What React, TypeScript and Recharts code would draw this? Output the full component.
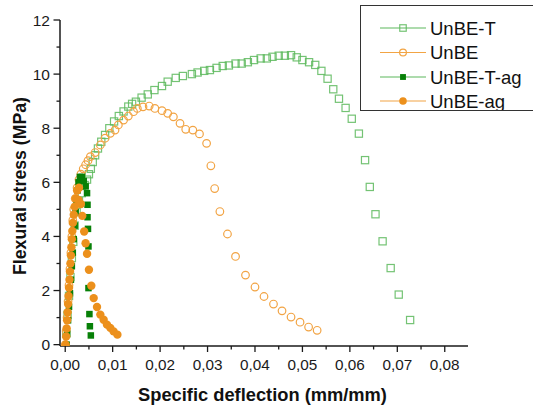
import { Label, Legend, Scatter, ScatterChart, XAxis, YAxis } from 'recharts';

type Pt = [number, number];

// (specific deflection mm/mm, flexural stress MPa)
const unbeT: Pt[] = [
  [0.0002, 0.4], [0.0005, 1.1], [0.0008, 1.8], [0.0011, 2.5], [0.0014, 3.2], [0.0017, 3.8],
  [0.002, 4.4], [0.0024, 4.9], [0.0029, 5.3], [0.0035, 5.6], [0.0041, 5.9], [0.0046, 6.1],
  [0.005, 6.3], [0.0054, 6.5], [0.0058, 6.75], [0.0063, 7.0], [0.0069, 7.25], [0.0076, 7.5],
  [0.0084, 7.75], [0.0093, 8.0], [0.0103, 8.25], [0.0113, 8.45], [0.0123, 8.62], [0.0133, 8.8],
  [0.0141, 8.9], [0.0149, 8.98], [0.0161, 9.13], [0.0174, 9.25], [0.0188, 9.41], [0.0204, 9.56],
  [0.0216, 9.72], [0.0233, 9.86], [0.0248, 9.93], [0.0267, 10.0], [0.0279, 10.06], [0.0293, 10.12],
  [0.0305, 10.15], [0.0319, 10.23], [0.0332, 10.3], [0.0345, 10.32], [0.0359, 10.39], [0.0372, 10.39],
  [0.0385, 10.44], [0.0398, 10.52], [0.0412, 10.58], [0.0425, 10.58], [0.0437, 10.64], [0.045, 10.68],
  [0.0463, 10.68], [0.0476, 10.7], [0.0488, 10.62], [0.05, 10.52], [0.0514, 10.44], [0.0527, 10.34],
  [0.054, 10.12], [0.0553, 9.83], [0.0565, 9.44], [0.0577, 9.09], [0.0591, 8.75], [0.0604, 8.35],
  [0.0619, 7.8], [0.0632, 6.82], [0.0642, 5.83], [0.0654, 4.82], [0.0669, 3.82], [0.0686, 2.83],
  [0.0703, 1.85], [0.0727, 0.91],
];

const unbe: Pt[] = [
  [0.0, 0.0], [0.0002, 0.5], [0.0004, 1.0], [0.0006, 1.6], [0.0008, 2.2], [0.001, 2.8],
  [0.0012, 3.4], [0.0014, 4.0], [0.0016, 4.6], [0.0018, 5.0], [0.0021, 5.4], [0.0025, 5.8],
  [0.0029, 6.1], [0.0033, 6.3], [0.0038, 6.5], [0.0043, 6.65], [0.0048, 6.8], [0.0053, 6.95],
  [0.0063, 7.1], [0.0074, 7.38], [0.0084, 7.63], [0.0095, 7.81], [0.0105, 7.93], [0.0112, 8.12],
  [0.0123, 8.3], [0.0133, 8.45], [0.0144, 8.61], [0.0152, 8.73], [0.0164, 8.79], [0.0177, 8.82],
  [0.0189, 8.73], [0.0204, 8.65], [0.0216, 8.55], [0.0228, 8.42], [0.0242, 8.18], [0.0254, 7.96],
  [0.0269, 7.93], [0.0283, 7.79], [0.0298, 7.44], [0.0307, 6.61], [0.0315, 5.77], [0.0326, 4.92],
  [0.0342, 4.09], [0.0359, 3.26], [0.038, 2.57], [0.04, 2.13], [0.0419, 1.78], [0.0439, 1.5],
  [0.0457, 1.25], [0.0476, 1.02], [0.0495, 0.83], [0.0513, 0.65], [0.0531, 0.53],
];

const unbeTag: Pt[] = [
  [0.0003, 0.0], [0.0004, 0.4], [0.0006, 0.9], [0.0008, 1.4], [0.001, 1.9], [0.0012, 2.4],
  [0.0014, 2.9], [0.0016, 3.4], [0.0018, 3.9], [0.002, 4.4], [0.0022, 4.9], [0.0024, 5.3],
  [0.0026, 5.7], [0.0028, 6.0], [0.0031, 6.2], [0.0035, 6.2], [0.0039, 6.05], [0.0043, 5.85],
  [0.0046, 5.6], [0.0047, 5.17], [0.0047, 4.71], [0.0048, 4.28], [0.0049, 3.63], [0.0049, 2.09],
  [0.0051, 1.13], [0.0052, 0.68], [0.0054, 0.34],
];

const unbeAg: Pt[] = [
  [0.0001, 0.0], [0.0002, 0.3], [0.0003, 0.6], [0.0004, 0.9], [0.0005, 1.2], [0.0006, 1.5],
  [0.0007, 1.8], [0.0008, 2.1], [0.0009, 2.4], [0.001, 2.7], [0.0011, 3.0], [0.0012, 3.3],
  [0.0013, 3.6], [0.0014, 3.9], [0.0015, 4.2], [0.0016, 4.5], [0.0018, 4.8], [0.002, 5.1],
  [0.0022, 5.4], [0.0025, 5.7], [0.0029, 5.8], [0.0028, 5.35], [0.0033, 5.2], [0.0036, 4.76],
  [0.004, 4.18], [0.0043, 3.75], [0.0046, 3.36], [0.005, 2.77], [0.0055, 2.18], [0.006, 1.72],
  [0.0067, 1.39], [0.0074, 1.11], [0.0081, 0.92], [0.0088, 0.74], [0.0095, 0.62], [0.0102, 0.49],
  [0.011, 0.37],
];

const seriesNames = ['UnBE-T', 'UnBE', 'UnBE-T-ag', 'UnBE-ag'];
const xTicks = [0, 0.005, 0.01, 0.015, 0.02, 0.025, 0.03, 0.035, 0.04, 0.045, 0.05, 0.055, 0.06, 0.065, 0.07, 0.075, 0.08];
const yTicks = [0, 1, 2, 3, 4, 5, 6, 7, 8, 9, 10, 11, 12];

const FONT = '"Liberation Sans", Arial, sans-serif';
const AXIS = '#1a1a1a';
const GREEN_OPEN = '#5cb85c';
const ORANGE_OPEN = '#f2a444';
const GREEN_FILL = '#078007';
const ORANGE_FILL = '#ec901c';

const toRows = (pts: Pt[]) => pts.map(([x, y]) => ({ x, y }));

type MarkerKind = 'openSquare' | 'openCircle' | 'square' | 'circle';

function Marker({ kind, cx, cy, scale = 1 }: { kind: MarkerKind; cx: number; cy: number; scale?: number }) {
  if (kind === 'openSquare') {
    const s = 7.2 * scale;
    return <rect x={cx - s / 2} y={cy - s / 2} width={s} height={s} fill="none" stroke={GREEN_OPEN} strokeWidth={1.2} strokeOpacity={0.85} />;
  }
  if (kind === 'openCircle') {
    return <circle cx={cx} cy={cy} r={3.8 * scale} fill="none" stroke={ORANGE_OPEN} strokeWidth={1.2} />;
  }
  if (kind === 'square') {
    const s = 6.5 * scale;
    return <rect x={cx - s / 2} y={cy - s / 2} width={s} height={s} fill={GREEN_FILL} />;
  }
  return <circle cx={cx} cy={cy} r={4.2 * scale} fill={ORANGE_FILL} />;
}

const kinds: MarkerKind[] = ['openSquare', 'openCircle', 'square', 'circle'];
const lineColors = [GREEN_OPEN, ORANGE_OPEN, GREEN_OPEN, ORANGE_OPEN];

function XTick(props: any) {
  const { x, y, payload } = props;
  const v = payload.value as number;
  const major = Math.abs(v * 100 - Math.round(v * 100)) < 1e-6;
  return (
    <g>
      <line x1={x} x2={x} y1={y} y2={y + (major ? 6 : 3.5)} stroke={AXIS} strokeWidth={1.3} />
      {major && (
        <text x={x} y={y + 24} textAnchor="middle" fontSize={15.3} fill={AXIS} fontFamily={FONT}>
          {v.toFixed(2).replace('.', ',')}
        </text>
      )}
    </g>
  );
}

function YTick(props: any) {
  const { x, y, payload } = props;
  const v = payload.value as number;
  const major = v % 2 === 0;
  return (
    <g>
      <line x1={x} x2={x - (major ? 6.5 : 3.5)} y1={y} y2={y} stroke={AXIS} strokeWidth={1.3} />
      {major && (
        <text x={x - 10} y={y + 5.5} textAnchor="end" fontSize={15.5} fill={AXIS} fontFamily={FONT}>
          {v}
        </text>
      )}
    </g>
  );
}

function LegendBox() {
  const rows = [22, 46.5, 71, 95];
  return (
    <div style={{ width: 185, height: 106, border: '1px solid #333', boxSizing: 'border-box', background: '#fff' }}>
      <svg width={185} height={104} style={{ display: 'block' }}>
        {seriesNames.map((name, i) => (
          <g key={name}>
            <line x1={19} x2={65} y1={rows[i]} y2={rows[i]} stroke={lineColors[i]} strokeWidth={1.2} />
            <Marker kind={kinds[i]} cx={42} cy={rows[i]} scale={0.9} />
            <text x={69} y={rows[i] + 6.5} fontSize={18.5} fill="#111" fontFamily={FONT}>
              {name}
            </text>
          </g>
        ))}
      </svg>
    </div>
  );
}

export default function App() {
  const all = [unbeT, unbe, unbeTag, unbeAg];
  return (
    <div style={{ position: 'relative', width: 533, height: 409, background: '#fff' }}>
      <style>{'body{margin:0}'}</style>
      <ScatterChart width={533} height={409} margin={{ top: 20, right: 65, left: 0, bottom: 0 }}>
        <XAxis
          type="number"
          dataKey="x"
          domain={[-0.0011, 0.0849]}
          allowDataOverflow
          ticks={xTicks}
          interval={0}
          height={63}
          tickSize={0}
          tickMargin={0}
          tick={XTick}
          axisLine={{ stroke: AXIS, strokeWidth: 1.5 }}
        >
          <Label
            content={() => (
              <text x={262.5} y={400.5} textAnchor="middle" fontSize={18.3} fontWeight="bold" fill="#111" fontFamily={FONT}>
                Specific deflection (mm/mm)
              </text>
            )}
          />
        </XAxis>
        <YAxis
          type="number"
          dataKey="y"
          domain={[-0.05, 12]}
          allowDataOverflow
          ticks={yTicks}
          interval={0}
          width={60}
          tickSize={0}
          tickMargin={0}
          tick={YTick}
          axisLine={{ stroke: AXIS, strokeWidth: 1.5 }}
        >
          <Label
            content={() => (
              <text
                x={25.5}
                y={186}
                transform="rotate(-90 25.5 186)"
                textAnchor="middle"
                fontSize={17.7}
                fontWeight="bold"
                fill="#111"
                fontFamily={FONT}
              >
                Flexural stress (MPa)
              </text>
            )}
          />
        </YAxis>
        <Legend
          layout="vertical"
          align="center"
          verticalAlign="middle"
          wrapperStyle={{ position: 'absolute', top: 5, left: 360, width: 185 }}
          content={() => <LegendBox />}
        />
        {all.map((pts, i) => (
          <Scatter
            key={seriesNames[i]}
            name={seriesNames[i]}
            data={toRows(pts)}
            isAnimationActive={false}
            shape={(p: any) => <Marker kind={kinds[i]} cx={p.cx} cy={p.cy} />}
          />
        ))}
      </ScatterChart>
    </div>
  );
}
